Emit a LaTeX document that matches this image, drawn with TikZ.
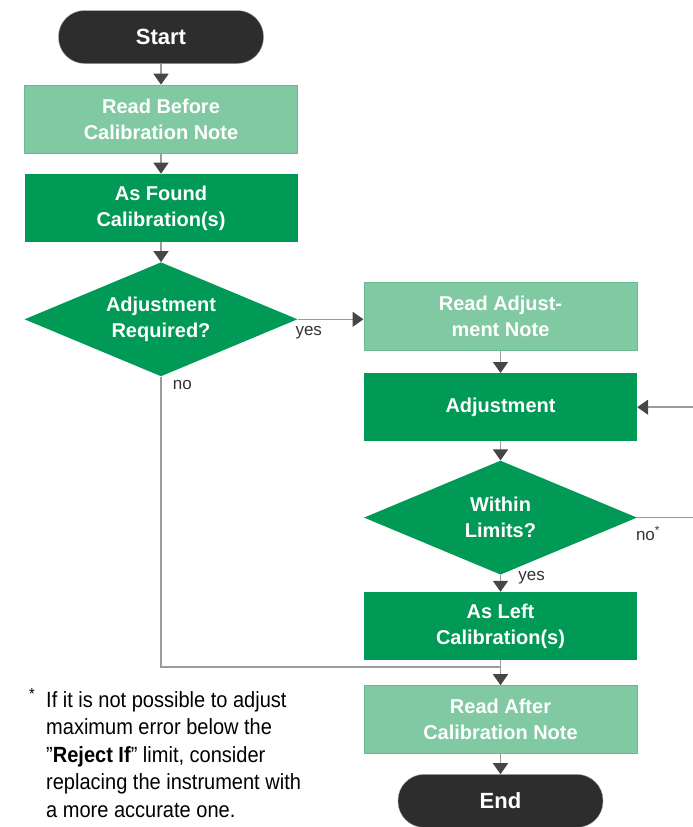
\documentclass[tikz,border=0pt]{standalone}
\usepackage{fontspec}
\setmainfont{Liberation Sans}
\newfontfamily\notafont[FakeStretch=0.91]{Liberation Sans}
\usepackage{xcolor}
\usepackage{tikz}
\usetikzlibrary{arrows.meta,positioning,calc,shapes.geometric}
\definecolor{verde}{RGB}{0,153,85}
\definecolor{verdeclaro}{RGB}{128,201,163}
\definecolor{bordeclaro}{RGB}{104,187,143}
\definecolor{negro}{RGB}{45,45,45}
\definecolor{grisflecha}{RGB}{70,70,70}
\definecolor{gristrazo}{RGB}{155,155,155}
\tikzset{
  caja/.style={rectangle,minimum width=273pt,minimum height=68pt,inner sep=0pt,align=center,text=white,font=\bfseries\fontsize{20}{26}\selectfont},
  cajaclara/.style={caja,fill=verdeclaro,draw=bordeclaro,line width=1pt},
  cajaverde/.style={caja,fill=verde},
  decision/.style={diamond,aspect=2.4,minimum width=273pt,minimum height=114pt,inner sep=0pt,fill=verde,align=center,text=white,font=\bfseries\fontsize{20}{26}\selectfont},
  terminal/.style={rectangle,rounded corners=26pt,minimum width=205pt,minimum height=53pt,fill=negro,draw=gray!70,text=white,font=\bfseries\fontsize{22}{26}\selectfont},
  linea/.style={draw=gristrazo,line width=1.6pt},
  flecha/.style={linea,-{Triangle[length=11pt,width=15pt,color=grisflecha]}},
  etiqueta/.style={font=\fontsize{17}{20}\selectfont,text=black!80,inner sep=0pt},
  nota/.style={font=\notafont\fontsize{22}{27.5}\selectfont,align=left,inner sep=0pt}
}
\begin{document}
\begin{tikzpicture}[x=1pt,y=1pt]
\useasboundingbox (0,0) rectangle (693,-827);
\node[terminal] (inicio) at (161,-37) {Start};
\node[cajaclara,below=21pt of inicio] (leerantes) {Read Before\\Calibration Note};
\node[cajaverde,below=20pt of leerantes] (encontrado) {As Found\\Calibration(s)};
\node[decision,below=20pt of encontrado] (requerido) {Adjustment\\Required?};
\node[cajaclara] (leerajuste) at (500.5,-316.5) {Read Adjust-\\ment Note};
\node[cajaverde,below=22pt of leerajuste] (ajuste) {Adjustment};
\node[decision,below=19pt of ajuste] (limites) {Within\\Limits?};
\node[cajaverde,below=17pt of limites] (dejado) {As Left\\Calibration(s)};
\node[cajaclara,below=25pt of dejado] (leerdespues) {Read After\\Calibration Note};
\node[terminal,below=20pt of leerdespues] (fin) {End};
\node[nota,font=\notafont\fontsize{16}{18}\selectfont,anchor=north west] (asterisco) at (29,-688) {*};
\node[nota,anchor=north west] (nota) at (46,-691) {If it is not possible to adjust\\maximum error below the\\”\textbf{Reject If}” limit, consider\\replacing the instrument with\\a more accurate one.};
\coordinate (union) at ($(dejado.south)!0.28!(leerdespues.north)$);
\coordinate (borde) at (696,0);
\draw[flecha] (inicio) -- (leerantes);
\draw[flecha] (leerantes) -- (encontrado);
\draw[flecha] (encontrado) -- (requerido);
\draw[flecha] (requerido.east) node[etiqueta,anchor=north west,xshift=-3pt,yshift=-6pt] (si1) {yes} -- (requerido.east -| leerajuste.west);
\draw[linea] (requerido.south) node[etiqueta,anchor=north west,xshift=11pt,yshift=-3pt] (no1) {no} |- (union);
\draw[flecha] (leerajuste) -- (ajuste);
\draw[flecha] (ajuste) -- (limites);
\draw[flecha] (limites.south) node[etiqueta,anchor=north west,xshift=17pt,yshift=4pt] (si2) {yes} -- (dejado.north);
\draw[flecha] (limites.east) node[etiqueta,anchor=north west,xshift=-2pt,yshift=-8pt] (no2) {no\textsuperscript{*}} -- (limites.east -| borde) |- (ajuste.east);
\draw[flecha] (dejado) -- (leerdespues);
\draw[flecha] (leerdespues) -- (fin);
\end{tikzpicture}
\end{document}
